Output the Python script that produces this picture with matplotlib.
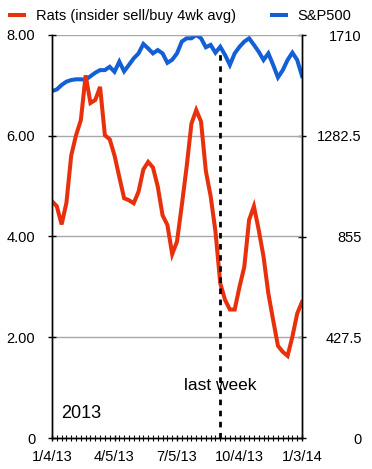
import numpy as np
import pandas as pd
import matplotlib
matplotlib.use('Agg')
import matplotlib.pyplot as plt
from matplotlib.ticker import FixedLocator, NullFormatter

plt.rcParams['font.family'] = ['Liberation Sans', 'DejaVu Sans']

weeks = pd.date_range('2013-01-04', periods=53, freq='7D')

rats = [4.70, 4.60, 4.24, 4.67, 5.61, 6.01, 6.31, 7.20, 6.65, 6.71,
        6.97, 6.01, 5.93, 5.61, 5.18, 4.76, 4.72, 4.66, 4.89, 5.33,
        5.48, 5.37, 4.99, 4.42, 4.23, 3.65, 3.90, 4.62, 5.38, 6.24,
        6.51, 6.28, 5.30, 4.80, 4.10, 3.07, 2.74, 2.55, 2.55, 3.00,
        3.40, 4.33, 4.60, 4.13, 3.60, 2.87, 2.34, 1.83, 1.71, 1.63,
        2.01, 2.47, 2.70]

spx = [1472, 1479, 1498, 1512, 1519, 1522, 1522, 1520, 1535, 1550,
       1561, 1561, 1575, 1554, 1597, 1556, 1583, 1611, 1632, 1672,
       1653, 1632, 1646, 1632, 1592, 1605, 1632, 1682, 1696, 1696,
       1710, 1696, 1658, 1668, 1635, 1660, 1625, 1583, 1632, 1660,
       1682, 1696, 1668, 1639, 1604, 1632, 1583, 1530, 1561, 1604,
       1635, 1604, 1536]

left_ticks = [0, 2, 4, 6, 8]
left_labels = ['0', '2.00', '4.00', '6.00', '8.00']
right_ticks = [0, 427.5, 855, 1282.5, 1710]
right_labels = ['0', '427.5', '855', '1282.5', '1710']
x_label_idx = [0, 13, 26, 39, 52]
x_labels = ['1/4/13', '4/5/13', '7/5/13', '10/4/13', '1/3/14']
last_week = weeks[35]

red = '#e8300c'
blue = '#135fd6'

fig = plt.figure(figsize=(3.72, 4.69), dpi=100)
ax1 = fig.add_axes([52/372, 31/469, 250/372, 403/469])
ax2 = ax1.twinx()

ax1.set_zorder(2)
ax1.patch.set_visible(False)

l1, = ax1.plot(weeks, rats, color=red, lw=2.9, solid_joinstyle='miter',
               label='Rats (insider sell/buy 4wk avg)')
l2, = ax2.plot(weeks, spx, color=blue, lw=2.9, solid_joinstyle='miter',
               label='S&P500')

ax1.vlines(last_week, 0, 7.72, colors='black', linestyles=(0, (2, 2)), lw=2)

ax1.set_xlim(weeks[0], weeks[-1])
ax1.set_ylim(0, 8)
ax2.set_ylim(0, 1710)

ax1.set_yticks(left_ticks)
ax1.set_yticklabels(left_labels)
ax2.set_yticks(right_ticks)
ax2.set_yticklabels(right_labels, ha='right')

ax1.xaxis.set_major_locator(FixedLocator([matplotlib.dates.date2num(weeks[i]) for i in x_label_idx]))
ax1.set_xticklabels(x_labels)
ax1.xaxis.set_minor_locator(FixedLocator(matplotlib.dates.date2num(weeks)))
ax1.xaxis.set_minor_formatter(NullFormatter())

ax1.grid(axis='y', color='#a8a8a8', lw=1)
ax1.set_axisbelow(True)
for a in (ax1, ax2):
    a.spines['top'].set_visible(False)
    for s in ('left', 'right', 'bottom'):
        a.spines[s].set_linewidth(1)

ax1.tick_params(axis='y', direction='inout', length=6, width=1, pad=9, labelsize=10.5)
ax2.tick_params(axis='y', direction='inout', length=6, width=1, pad=40, labelsize=10.5)
ax1.tick_params(axis='x', which='major', direction='inout', length=5, width=1, pad=6, labelsize=10.5)
ax1.tick_params(axis='x', which='minor', direction='inout', length=5, width=0.8)

ax1.text(last_week, 1.05, 'last week', ha='center', va='center', fontsize=12.5)
ax1.text(weeks[2], 0.48, '2013', ha='left', va='center', fontsize=13)

fig.legend(handles=[l1, l2], loc='upper left', bbox_to_anchor=(10/372, 1 - 9/469),
           ncol=2, frameon=False, fontsize=10.5, handlelength=0.96,
           handletextpad=0.82, columnspacing=2.45, borderaxespad=0, borderpad=0)

fig.savefig('out.png', dpi=100)
